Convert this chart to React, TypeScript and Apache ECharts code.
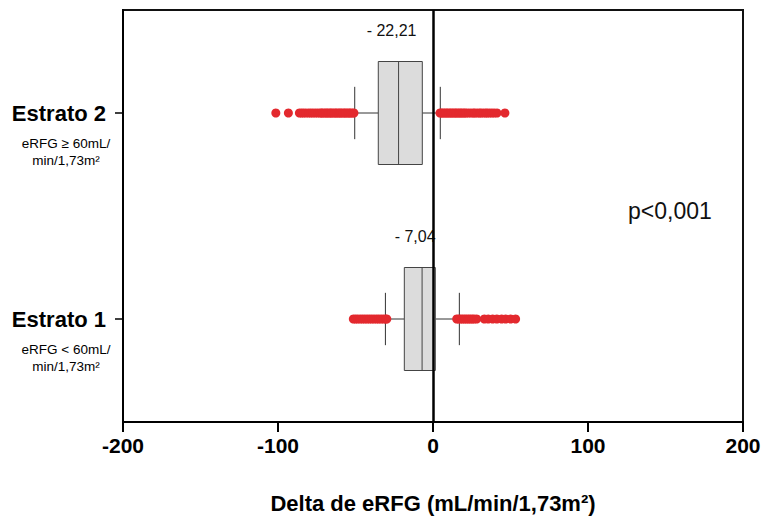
import React, { useEffect, useRef } from "react";
import * as echarts from "echarts";

const categories = ["Estrato 1", "Estrato 2"];
const subLabels = ["eRFG < 60mL/\nmin/1,73m²", "eRFG ≥ 60mL/\nmin/1,73m²"];
const boxMin = [-30.7, -50.5];
const boxQ1 = [-18.5, -35.3];
const boxMedian = [-7.04, -22.21];
const boxQ3 = [1.5, -6.9];
const boxMax = [17, 4.7];
const outliersEstrato1 = [
  -51.4, -50, -48.6, -47, -45.5, -44, -42.5, -41, -39.5, -38, -36.4, -35, -33.5, -32, -30.5, -29.8,
  15.3, 16.5, 17.8, 19, 20.3, 21.5, 22.8, 24, 25.3, 26.5, 28.2, 33.1, 35.6, 38.5, 41.2, 44.3, 46.9,
  50.1, 53.3,
];
const outliersEstrato2 = [
  -101.4, -93.3, -86.2, -84.8, -83.5, -82, -80.3, -78.9, -77.5, -76, -74.5, -73, -72, -71.2, -70,
  -69, -68.1, -67, -66, -65.2, -64, -63, -62.1, -61, -60, -59.2, -58, -57, -56.1, -55, -54, -53.2,
  -52, -51, 4.5, 5.5, 6.4, 7.5, 8.5, 9.4, 10.5, 11.5, 12.4, 13.5, 14.5, 15.4, 16.5, 17.5, 18.4, 19.5,
  20.5, 21.5, 23, 24.5, 26, 27, 28.5, 30, 31, 32.5, 34, 35, 36.5, 38, 39.5, 41.3, 46.4,
];
const xMin = -200;
const xMax = 200;
const xInterval = 100;
const pValueText = "p<0,001";

const FONT = "'Liberation Sans', Arial, Helvetica, sans-serif";

// category i is placed at y = 2*i + 1 on a 0..4 value scale (band of 2 units each)
const catPos = (i: number) => 2 * i + 1;
const posToIndex = (v: number) => Math.round((v - 1) / 2);

export default function App() {
  const ref = useRef<HTMLDivElement>(null);

  useEffect(() => {
    if (!ref.current) return;
    const chart = echarts.init(ref.current, null, { renderer: "svg" });

    const boxData = categories.map((_, i) => [
      catPos(i),
      boxMin[i],
      boxQ1[i],
      boxMedian[i],
      boxQ3[i],
      boxMax[i],
    ]);
    const outlierData: number[][] = [];
    outliersEstrato1.forEach((v) => outlierData.push([v, catPos(0)]));
    outliersEstrato2.forEach((v) => outlierData.push([v, catPos(1)]));
    const tickPositions = categories.map((_, i) => catPos(i));

    const fmtMedian = (v: number) =>
      (v < 0 ? "- " : "") + Math.abs(v).toFixed(2).replace(".", ",");

    const renderItem = (params: any, api: any) => {
      const cat = api.value(0);
      const pMin = api.coord([api.value(1), cat]);
      const pQ1 = api.coord([api.value(2), cat]);
      const pMed = api.coord([api.value(3), cat]);
      const pQ3 = api.coord([api.value(4), cat]);
      const pMax = api.coord([api.value(5), cat]);
      const band = api.size([0, 2])[1];
      const boxH = band * 0.5;
      const capH = band * 0.127;
      const cy = pMed[1];
      const lineStyle = { stroke: "#333", lineWidth: 1 };
      return {
        type: "group",
        children: [
          {
            type: "line",
            shape: { x1: pMin[0], y1: cy, x2: pQ1[0], y2: cy },
            style: lineStyle,
          },
          {
            type: "line",
            shape: { x1: pQ3[0], y1: cy, x2: pMax[0], y2: cy },
            style: lineStyle,
          },
          {
            type: "line",
            shape: { x1: pMin[0], y1: cy - capH, x2: pMin[0], y2: cy + capH },
            style: lineStyle,
          },
          {
            type: "line",
            shape: { x1: pMax[0], y1: cy - capH, x2: pMax[0], y2: cy + capH },
            style: lineStyle,
          },
          {
            type: "rect",
            shape: { x: pQ1[0], y: cy - boxH / 2, width: pQ3[0] - pQ1[0], height: boxH },
            style: { fill: "#dcdcdc", stroke: "#444", lineWidth: 1 },
          },
          {
            type: "line",
            shape: { x1: pMed[0], y1: cy - boxH / 2, x2: pMed[0], y2: cy + boxH / 2 },
            style: { stroke: "#444", lineWidth: 1 },
          },
          {
            type: "text",
            style: {
              text: fmtMedian(api.value(3)),
              x: pMed[0] - 7,
              y: cy - boxH / 2 - 31,
              align: "center",
              verticalAlign: "middle",
              fontSize: 16,
              fontFamily: FONT,
              fill: "#111",
            },
          },
        ],
      };
    };

    chart.setOption({
      animation: false,
      backgroundColor: "#fff",
      grid: {
        left: 123,
        right: 22,
        top: 10,
        bottom: 99,
        show: true,
        borderColor: "#111",
        borderWidth: 2,
        backgroundColor: "transparent",
      },
      xAxis: {
        type: "value",
        min: xMin,
        max: xMax,
        interval: xInterval,
        splitLine: { show: false },
        axisLine: { show: true, onZero: false, lineStyle: { color: "#000", width: 2 } },
        axisTick: { show: true, length: 10, lineStyle: { color: "#000", width: 2 } },
        axisLabel: {
          color: "#000",
          fontSize: 21,
          fontWeight: "bold",
          fontFamily: FONT,
          margin: 13,
        },
        name: "Delta de eRFG (mL/min/1,73m²)",
        nameLocation: "middle",
        nameGap: 70,
        nameTextStyle: {
          color: "#000",
          fontSize: 22,
          fontWeight: "bold",
          fontFamily: FONT,
        },
      },
      yAxis: [
        {
          type: "value",
          min: 0,
          max: 4,
          position: "left",
          splitLine: { show: false },
          axisLine: { show: true, onZero: false, lineStyle: { color: "#000", width: 2 } },
          axisTick: {
            show: true,
            length: 8,
            customValues: tickPositions,
            lineStyle: { color: "#000", width: 1.5 },
          },
          axisLabel: {
            customValues: tickPositions,
            formatter: (v: number) => categories[posToIndex(v)] ?? "",
            color: "#000",
            fontSize: 22,
            fontWeight: "bold",
            fontFamily: FONT,
            margin: 17,
          },
        },
        {
          type: "value",
          min: 0,
          max: 4,
          position: "left",
          splitLine: { show: false },
          axisLine: { show: false },
          axisTick: { show: false },
          axisLabel: {
            customValues: tickPositions,
            formatter: (v: number) => subLabels[posToIndex(v)] ?? "",
            color: "#000",
            fontSize: 13.5,
            lineHeight: 17,
            fontFamily: FONT,
            align: "center",
            verticalAlign: "top",
            padding: [22, 0, 0, 0],
            margin: 57,
          },
        },
      ],
      series: [
        {
          type: "custom",
          name: "box",
          renderItem,
          encode: { x: [1, 2, 3, 4, 5], y: 0 },
          data: boxData,
          z: 2,
          markLine: {
            silent: true,
            symbol: "none",
            label: { show: false },
            lineStyle: { color: "#000", width: 2.5, type: "solid" },
            data: [{ xAxis: 0 }],
          },
        },
        {
          type: "scatter",
          name: "outliers",
          data: outlierData,
          symbol: "circle",
          symbolSize: 9,
          itemStyle: { color: "#e3292e", opacity: 1 },
          z: 3,
        },
      ],
      graphic: [
        {
          type: "text",
          left: 628,
          top: 199,
          style: {
            text: pValueText,
            fontSize: 23,
            fontFamily: FONT,
            fill: "#111",
          },
        },
      ],
    });

    return () => {
      chart.dispose();
    };
  }, []);

  return (
    <div
      ref={ref}
      style={{ position: "fixed", left: 0, top: 0, width: 765, height: 521 }}
    />
  );
}
